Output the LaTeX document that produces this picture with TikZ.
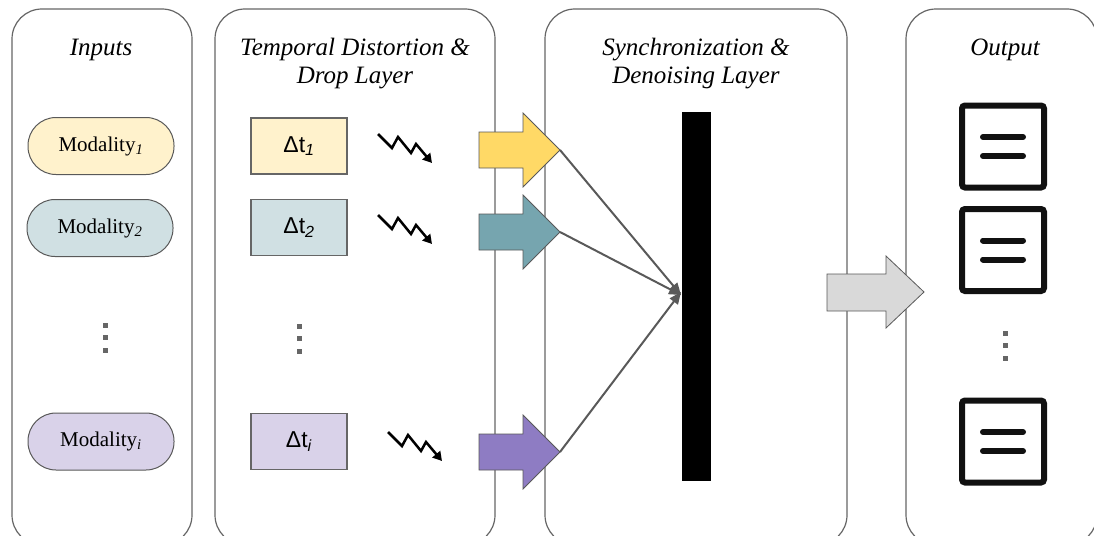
\documentclass[tikz,border=0pt]{standalone}
\usepackage{fontspec}
\setmainfont{Liberation Serif}
\newfontfamily\sansfont{Liberation Sans}
\usetikzlibrary{arrows.meta}

\definecolor{frame}{HTML}{666666}
\definecolor{edge}{HTML}{595959}
\definecolor{paleyellow}{HTML}{FFF2CC}
\definecolor{paleteal}{HTML}{D0E0E3}
\definecolor{palepurple}{HTML}{D9D2E9}
\definecolor{yellowarrow}{HTML}{FFD966}
\definecolor{tealarrow}{HTML}{76A5AF}
\definecolor{purplearrow}{HTML}{8E7CC3}
\definecolor{greyarrow}{HTML}{D9D9D9}
\definecolor{icon}{HTML}{111111}

\begin{document}
\begin{tikzpicture}[x=1pt, y=-1pt,
  panel/.style = {draw=frame, line width=1.2pt, rounded corners=30pt},
  heading/.style = {align=center, font=\fontsize{25}{28}\selectfont\itshape},
  modality/.style = {draw=edge, line width=1pt, rounded corners=28pt,
    minimum width=146pt, minimum height=57pt, inner sep=0pt,
    font=\fontsize{21}{24}\selectfont},
  delay/.style = {draw=frame, line width=1.2pt, minimum width=96pt,
    minimum height=56pt, inner sep=0pt, font=\sansfont\fontsize{23}{24}\selectfont},
  blockarrow/.style = {draw=edge, line width=0.8pt},
  jitter/.style = {draw=black, line width=2.5pt, line join=miter,
    -{Triangle[length=9pt, width=10pt]}},
  link/.style = {draw=edge, line width=2pt, -{Triangle[length=12pt, width=10pt]}},
  outicon/.style = {draw=icon, line width=6pt, rounded corners=3pt,
    minimum size=82pt, inner sep=0pt},
  iconbar/.style = {draw=icon, line width=6pt, line cap=round},
  vdots/.style = {fill=frame}]

\useasboundingbox (0,0) rectangle (1094,535);

% panels
\draw[panel] (12,9) rectangle (192,545);
\draw[panel] (215,9) rectangle (495,545);
\draw[panel] (545,9) rectangle (847,545);
\draw[panel] (906,9) rectangle (1097,545);

\node[heading] (inputs) at (101,50) {Inputs};
\node[heading] (distort) at (355,64) {Temporal Distortion \&\\Drop Layer};
\node[heading] (sync) at (696,64) {Synchronization \&\\Denoising Layer};
\node[heading] (output) at (1005,50) {Output};

% inputs
\node[modality, fill=paleyellow] (mod1) at (101,146) {Modality\textsubscript{\textit{1}}};
\node[modality, fill=paleteal] (mod2) at (100,228) {Modality\textsubscript{\textit{2}}};
\node[modality, fill=palepurple] (modi) at (101,441.5) {Modality\textsubscript{\textit{i}}};

% time shifts
\node[delay, fill=paleyellow] (dt1) at (299,146) {Δt\textsubscript{\textit{1}}};
\node[delay, fill=paleteal] (dt2) at (299,227.5) {Δt\textsubscript{\textit{2}}};
\node[delay, fill=palepurple] (dti) at (299,441.5) {Δt\textsubscript{\textit{i}}};

\foreach \x/\y in {378/134, 378/215, 388/432}
  \draw[jitter] (\x,\y) -- ++(14,14) -- ++(6,-11) -- ++(13,16) -- ++(5,-9) -- ++(16,19);

% ellipses
\foreach \x/\y in {105/325, 299/326, 1005/333}
  \foreach \k in {0,1,2}
    \fill[vdots] (\x-2.5,\y-2.5+12.5*\k) rectangle ++(5,5);

% synchronisation
\node[fill=black, minimum width=29pt, minimum height=369pt, inner sep=0pt] (bar) at (696.5,296.5) {};
\coordinate (hub) at (681,295);

\foreach \y/\c/\n in {150/yellowarrow/1, 232/tealarrow/2, 452/purplearrow/i} {
  \draw[blockarrow, fill=\c] (479,\y-18) -- (523,\y-18) -- (523,\y-37) -- (560,\y)
    -- (523,\y+37) -- (523,\y+18) -- (479,\y+18) -- cycle;
  \coordinate (tip\n) at (560,\y);
}
\draw[link] (tip1) -- (hub);
\draw[link] (tip2) -- (hub);
\draw[link] (tipi) -- ([yshift=3]hub);

\draw[blockarrow, fill=greyarrow] (827,274) -- (886,274) -- (886,256) -- (924,292)
  -- (886,328) -- (886,311) -- (827,311) -- cycle;

% outputs
\foreach \n/\y in {1/146.5, 2/250, 3/441.5} {
  \node[outicon] (out\n) at (1003,\y) {};
  \draw[iconbar] ([shift={(-20,-9.5)}]out\n.center) -- ([shift={(20,-9.5)}]out\n.center);
  \draw[iconbar] ([shift={(-20,9.5)}]out\n.center) -- ([shift={(20,9.5)}]out\n.center);
}
\end{tikzpicture}
\end{document}
